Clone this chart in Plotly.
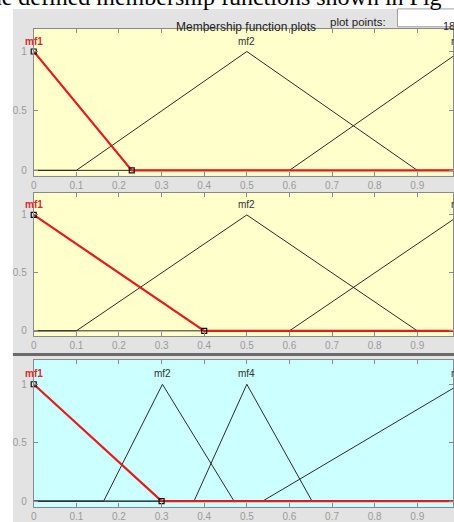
import plotly.graph_objects as go

# ---------------- data ----------------
x_tick_vals = [0, 0.1, 0.2, 0.3, 0.4, 0.5, 0.6, 0.7, 0.8, 0.9]
x_tick_text = ["0", "0.1", "0.2", "0.3", "0.4", "0.5", "0.6", "0.7", "0.8", "0.9"]
y_tick_vals = [0, 0.5, 1]
y_tick_text = ["0", "0.5", "1"]

# panel 1 (yellow)
p1_names = ["mf1", "mf2", "mf3"]
p1_mf1_x = [0, 0.23, 1.0]
p1_mf1_y = [1, 0, 0]
p1_mf2_x = [0, 0.1, 0.5, 0.9, 1.0]
p1_mf2_y = [0, 0, 1, 0, 0]
p1_mf3_x = [0, 0.6, 1.0]
p1_mf3_y = [0, 0, 1]

# panel 2 (yellow)
p2_names = ["mf1", "mf2", "mf3"]
p2_mf1_x = [0, 0.4, 1.0]
p2_mf1_y = [1, 0, 0]
p2_mf2_x = [0, 0.1, 0.5, 0.9, 1.0]
p2_mf2_y = [0, 0, 1, 0, 0]
p2_mf3_x = [0, 0.6, 1.0]
p2_mf3_y = [0, 0, 1]

# panel 3 (cyan)
p3_names = ["mf1", "mf2", "mf4", "mf3"]
p3_mf1_x = [0, 0.3, 1.0]
p3_mf1_y = [1, 0, 0]
p3_mf2_x = [0, 0.164, 0.302, 0.47, 1.0]
p3_mf2_y = [0, 0, 1, 0, 0]
p3_mf4_x = [0, 0.376, 0.5, 0.653, 1.0]
p3_mf4_y = [0, 0, 1, 0, 0]
p3_mf3_x = [0, 0.537, 1.0]
p3_mf3_y = [0, 0, 1]

header_title = "Membership function plots"
header_points_label = "plot points:"
header_points_value = "181"
top_text = "the defined membership functions shown in Fig"

# ---------------- layout helpers ----------------
W, H = 454, 522
def px_x(p):
    return p / W
def px_y(p):
    return 1 - p / H

X_LEFT_PX = 31
X_RANGE = [0, (W - X_LEFT_PX) / 430.0]
x_domain = [px_x(X_LEFT_PX), 1.0]

panels = [
    dict(names=p1_names, mfs=[(p1_mf1_x, p1_mf1_y), (p1_mf2_x, p1_mf2_y), (p1_mf3_x, p1_mf3_y)],
         bg="#ffffcc", top=29.2, bottom=177.4, yrange=[-0.045, 1.19]),
    dict(names=p2_names, mfs=[(p2_mf1_x, p2_mf1_y), (p2_mf2_x, p2_mf2_y), (p2_mf3_x, p2_mf3_y)],
         bg="#ffffcc", top=194.8, bottom=339.3, yrange=[-0.045, 1.19]),
    dict(names=p3_names, mfs=[(p3_mf1_x, p3_mf1_y), (p3_mf2_x, p3_mf2_y), (p3_mf4_x, p3_mf4_y), (p3_mf3_x, p3_mf3_y)],
         bg="#ccffff", top=363.2, bottom=511.9, yrange=[-0.05, 1.21]),
]

fig = go.Figure()
annotations = []
shapes = []

# window background
shapes.append(dict(type="rect", xref="paper", yref="paper", x0=px_x(10), x1=1.02,
                   y0=-0.02, y1=px_y(9), fillcolor="#e3e3e3", line=dict(width=0), layer="below"))
# white value box in header
shapes.append(dict(type="rect", xref="paper", yref="paper", x0=px_x(398), x1=1.02,
                   y0=px_y(27), y1=px_y(9), fillcolor="#ffffff",
                   line=dict(color="#a0a0a0", width=1), layer="below"))
# dark separator between panel 2 and 3
shapes.append(dict(type="line", xref="paper", yref="paper", x0=px_x(10), x1=1.02,
                   y0=px_y(358), y1=px_y(358), line=dict(color="#6a6a6a", width=3), layer="below"))

for i, p in enumerate(panels):
    n = "" if i == 0 else str(i + 1)
    xa, ya = "x" + n, "y" + n
    sel_x, sel_y = p["mfs"][0]
    # unselected mfs
    for (mx, my) in p["mfs"][1:]:
        fig.add_trace(go.Scatter(x=mx, y=my, mode="lines", xaxis=xa, yaxis=ya,
                                 line=dict(color="#2a2a2a", width=1), showlegend=False,
                                 hoverinfo="skip"))
    # selected mf in red
    fig.add_trace(go.Scatter(x=sel_x, y=sel_y, mode="lines", xaxis=xa, yaxis=ya,
                             line=dict(color="#e21c1c", width=2.2), showlegend=False,
                             hoverinfo="skip"))
    fig.add_trace(go.Scatter(x=sel_x[:2], y=sel_y[:2], mode="markers", xaxis=xa, yaxis=ya,
                             marker=dict(symbol="square-open", size=5, color="#111111",
                                         line=dict(width=1.2)),
                             showlegend=False, hoverinfo="skip", cliponaxis=False))
    d = [px_y(p["bottom"]), px_y(p["top"])]
    axis_common = dict(showline=True, linecolor="#8a8a8a", linewidth=1, mirror="allticks",
                       ticks="inside", ticklen=4, tickcolor="#8a8a8a", showgrid=False,
                       zeroline=False, tickfont=dict(family="Liberation Sans, Arial", size=10, color="#9a9a9a"))
    fig.update_layout(**{
        ("xaxis" + n): dict(domain=x_domain, range=X_RANGE, anchor=ya, tickvals=x_tick_vals,
                            ticktext=x_tick_text, **axis_common),
        ("yaxis" + n): dict(domain=d, range=p["yrange"], anchor=xa, tickvals=y_tick_vals,
                            ticktext=y_tick_text, ticklabelstandoff=4, **axis_common),
    })
    shapes.append(dict(type="rect", xref=xa + " domain", yref=ya + " domain", x0=0, x1=1, y0=0, y1=1,
                       fillcolor=p["bg"], line=dict(width=0), layer="below"))
    # labels at each mf's peak
    for k, (name, (mx, my)) in enumerate(zip(p["names"], p["mfs"])):
        peak_x = mx[my.index(max(my))]
        frac = (peak_x - X_RANGE[0]) / (X_RANGE[1] - X_RANGE[0])
        xp = x_domain[0] + frac * (x_domain[1] - x_domain[0])
        annotations.append(dict(
            x=xp, xref="paper", xanchor="center", y=max(my), yref=ya, yanchor="bottom", yshift=3,
            text=("<b>%s</b>" % name) if k == 0 else name, showarrow=False,
            font=dict(family="Liberation Sans, Arial", size=10,
                      color="#d42a2a" if k == 0 else "#333333")))

# header texts
annotations += [
    dict(x=px_x(245), y=px_y(18), xref="paper", yref="paper", xanchor="center", text=header_title,
         showarrow=False, font=dict(family="Liberation Sans, Arial", size=12, color="#222222")),
    dict(x=px_x(358), y=px_y(14.5), xref="paper", yref="paper", xanchor="center", text=header_points_label,
         showarrow=False, font=dict(family="Liberation Sans, Arial", size=11.5, color="#222222")),
    dict(x=px_x(442), y=px_y(18), xref="paper", yref="paper", xanchor="left", text=header_points_value,
         showarrow=False, font=dict(family="Liberation Sans, Arial", size=11, color="#222222")),
    dict(x=px_x(-22), y=px_y(12), xref="paper", yref="paper", xanchor="left", yanchor="bottom",
         text=top_text, showarrow=False,
         font=dict(family="Liberation Serif, Times New Roman", size=24, color="#000000")),
]

fig.update_layout(width=W, height=H, autosize=False, margin=dict(l=0, r=0, t=0, b=0),
                  paper_bgcolor="#ffffff", plot_bgcolor="rgba(0,0,0,0)",
                  annotations=annotations, shapes=shapes)

fig.write_html("out.html", config={"displayModeBar": False},
               post_script="document.body.style.margin='0';document.body.style.overflow='hidden';")
